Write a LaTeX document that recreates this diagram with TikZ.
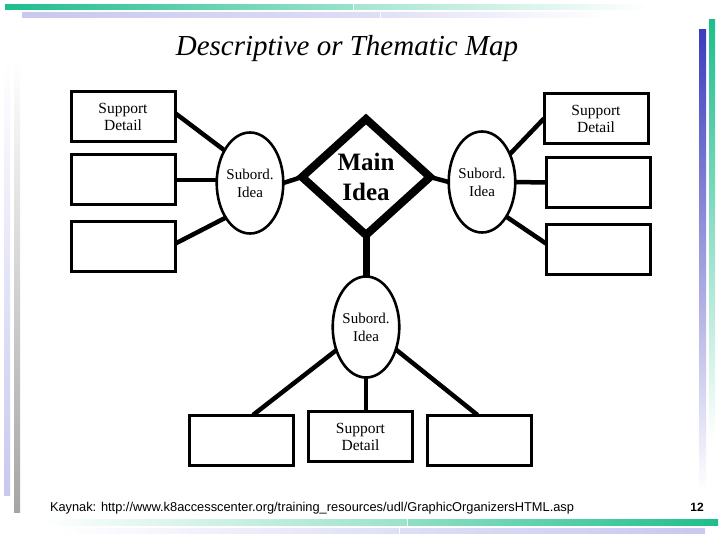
\documentclass[tikz,border=0pt]{standalone}
\usepackage{fontspec}
\setmainfont{Liberation Serif}
\newfontfamily\footfont{Liberation Sans}
\usetikzlibrary{shapes.geometric,calc,backgrounds}
\definecolor{gr}{RGB}{30,190,140}
\definecolor{lav}{RGB}{200,200,240}
\definecolor{blu}{RGB}{60,60,190}
\definecolor{gry}{RGB}{165,165,165}
\tikzset{
  every node/.style={outer sep=0pt},
  detailbox/.style={draw, line width=3pt, fill=white, minimum width=104pt, minimum height=50pt, inner sep=0pt, align=center, font=\fontsize{15.5}{17}\selectfont},
  subord/.style={draw, ellipse, line width=2.6pt, fill=white, minimum width=63pt, minimum height=101pt, inner sep=0pt, align=center, font=\fontsize{15}{18}\selectfont},
  mainidea/.style={draw, diamond, line width=8pt, fill=white, minimum width=128pt, minimum height=116pt, inner sep=0pt, align=center, font=\fontsize{25}{30}\selectfont\bfseries, line join=miter},
  link/.style={line width=4.5pt},
  biglink/.style={line width=7pt}
}
\begin{document}
\begin{tikzpicture}[x=1pt,y=-1pt]
\useasboundingbox (0,0) rectangle (720,540);
% decorative bars
\shade[left color=gr, right color=gr!45] (5,5) rectangle (353,10);
\shade[left color=gr!40, right color=white] (354,5) rectangle (650,10);
\shade[left color=lav, right color=lav!60] (22,13) rectangle (380,18);
\shade[left color=lav!55, right color=white] (381,13) rectangle (610,18);
\shade[top color=blu, bottom color=white] (699,30) rectangle (706,490);
\shade[top color=gr, bottom color=white] (709,20) rectangle (715,440);
\shade[top color=white, bottom color=lav] (4,60) rectangle (10,495);
\shade[top color=white, bottom color=gry] (14,60) rectangle (20,512);
\shade[left color=white, right color=gr!45] (40,519) rectangle (407,525);
\shade[left color=gr!50, right color=gr] (408,519) rectangle (718,525);
\shade[left color=white, right color=lav!60] (60,528) rectangle (399,533);
\shade[left color=lav!60, right color=lav] (400,528) rectangle (705,533);
% title
\node (title) at (347,49) {\fontsize{29}{32}\selectfont\itshape Descriptive or Thematic Map};
% nodes
\node[mainidea] (main) at (366,177) {Main\\Idea};
\node[subord] (lel) at (250,183) {Subord.\\Idea};
\node[subord] (rel) at (482,182) {Subord.\\Idea};
\node[subord] (bel) at (366,327) {Subord.\\Idea};
\node[detailbox] (L1) at (123,117) {Support\\Detail};
\node[detailbox] (L2) at (123.5,180) {};
\node[detailbox] (L3) at (123.5,246.5) {};
\node[detailbox] (R1) at (596,118.5) {Support\\Detail};
\node[detailbox] (R2) at (598,182.5) {};
\node[detailbox] (R3) at (598,249.5) {};
\node[detailbox] (B1) at (241,440) {};
\node[detailbox] (B2) at (360.5,436.5) {Support\\Detail};
\node[detailbox] (B3) at (479.5,440) {};
% connectors
\begin{pgfonlayer}{background}
\draw[link] ($(L1.east)+(0,-4)$) -- (lel.128);
\draw[link] (L2.east) -- (lel.west |- L2.east);
\draw[link] ($(L3.east)+(0,-3)$) -- (lel.235);
\draw[link] (lel.east) -- (main.west);
\draw[link] (main.east) -- (rel.west);
\draw[link] (rel.45) -- (R1.west);
\draw[link] (rel.east) -- (R2.west);
\draw[link] (rel.-55) -- ($(R3.west)+(0,-6)$);
\draw[biglink] (main.south) -- (bel.north);
\draw[link] (bel.218) -- ($(B1.north)+(12,0)$);
\draw[link] (bel.south) -- (bel.south |- B2.north);
\draw[link] (bel.-37) -- ($(B3.north)+(-2,0)$);
\end{pgfonlayer}
% footer
\node[anchor=west, inner sep=0pt] (src) at (50,508) {\resizebox{524pt}{!}{\footfont\fontsize{11}{13}\selectfont Kaynak: http://www.k8accesscenter.org/training\_resources/udl/GraphicOrganizersHTML.asp}};
\node[inner sep=0pt] (pg) at (697,507) {\footfont\fontsize{12}{14}\selectfont\bfseries 12};
\end{tikzpicture}
\end{document}
